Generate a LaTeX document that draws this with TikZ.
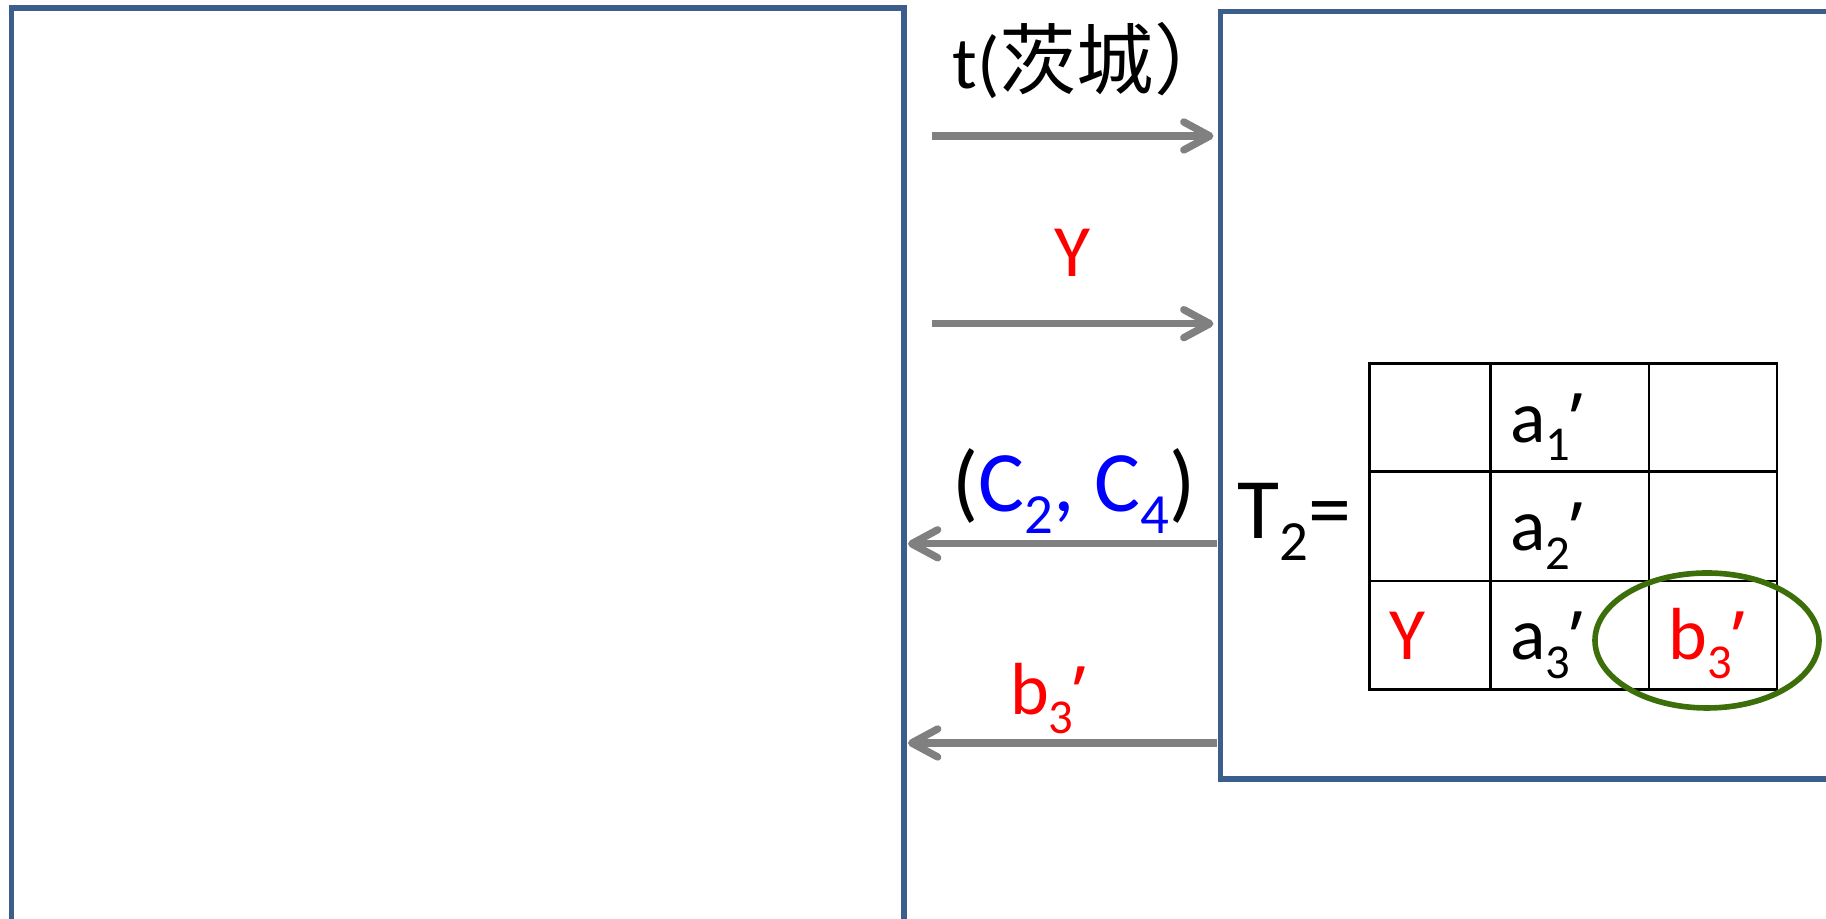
\documentclass[tikz,border=0pt]{standalone}
\usepackage{fontspec}
\usepackage{graphicx}
\setmainfont{Carlito}
\newfontfamily\cjk{Noto Sans CJK SC}
\newfontfamily\quotefont{Open Sans}
\usetikzlibrary{arrows.meta}
\definecolor{frameblue}{RGB}{59,94,140}
\definecolor{msggray}{RGB}{128,128,128}
\definecolor{ringgreen}{RGB}{60,110,10}
\newcommand{\subidx}[1]{\raisebox{-0.25em}{\scalebox{0.66}{#1}}}
\newcommand{\prm}{\raisebox{-0.06em}{\quotefont ’}}

\begin{document}
\begin{tikzpicture}[
    font=\fontsize{21}{25}\selectfont,
    party/.style={draw=frameblue,line width=1.6pt,inner sep=0pt,outer sep=0pt,anchor=north west},
    msg/.style={draw=msggray,line width=2.1pt,-{Straight Barb[length=2.6mm,width=2.8mm,round]}},
    lbl/.style={anchor=base,inner sep=0pt},
    big/.style={font=\fontsize{24.5}{28}\selectfont},
    cell/.style={anchor=base west,inner sep=0pt},
    grid/.style={line width=0.8pt}
]
\clip (0,0) rectangle (18.26,-9.19);

% the two parties
\node[party,minimum width=8.921cm,minimum height=10cm] (lbox) at (0.116,-0.082) {};
\node[party,minimum width=7cm,minimum height=7.674cm] (rbox) at (12.205,-0.116) {};

% messages
\coordinate (q1from) at (9.317,-1.36);  \coordinate (q1to) at (12.135,-1.36);
\coordinate (q2from) at (9.317,-3.237); \coordinate (q2to) at (12.135,-3.237);
\coordinate (r1from) at (12.17,-5.438); \coordinate (r1to) at (9.08,-5.438);
\coordinate (r2from) at (12.17,-7.43);  \coordinate (r2to) at (9.08,-7.43);
\draw[msg] (q1from) -- (q1to);
\draw[msg] (q2from) -- (q2to);
\draw[msg] (r1from) -- (r1to);
\draw[msg] (r2from) -- (r2to);

\node[lbl] (q1lbl) at (10.92,-0.885) {t({\cjk\fontsize{22}{26}\selectfont 茨城）}};
\node[lbl,text=red] (q2lbl) at (10.72,-2.77) {Y};
\node[lbl,big] (r1lbl) at (10.74,-5.12) {(\textcolor{blue}{C\subidx{2}, C\subidx{4}})};
\node[lbl,text=red] (r2lbl) at (10.48,-7.15) {b\subidx{3}\prm};

% table T_2
\node[big,anchor=base west,inner sep=0pt] (tname) at (12.37,-5.39) {T\subidx{2}=};
\draw[grid] (13.695,-3.633) rectangle (17.77,-6.894);
\foreach \x in {14.906,16.49}
    \draw[grid] (\x,-3.633) -- (\x,-6.894);
\foreach \y in {-4.716,-5.81}
    \draw[grid] (13.695,\y) -- (17.77,\y);
\node[cell] (a1) at (15.096,-4.423) {a\subidx{1}\prm};
\node[cell] (a2) at (15.096,-5.506) {a\subidx{2}\prm};
\node[cell] (a3) at (15.096,-6.60) {a\subidx{3}\prm};
\node[cell,text=red] (y3) at (13.885,-6.60) {Y};
\node[cell,text=red] (b3) at (16.68,-6.60) {b\subidx{3}\prm};
\draw[ringgreen,line width=1.6pt] (17.07,-6.405) ellipse [x radius=1.12,y radius=0.675];
\end{tikzpicture}
\end{document}
